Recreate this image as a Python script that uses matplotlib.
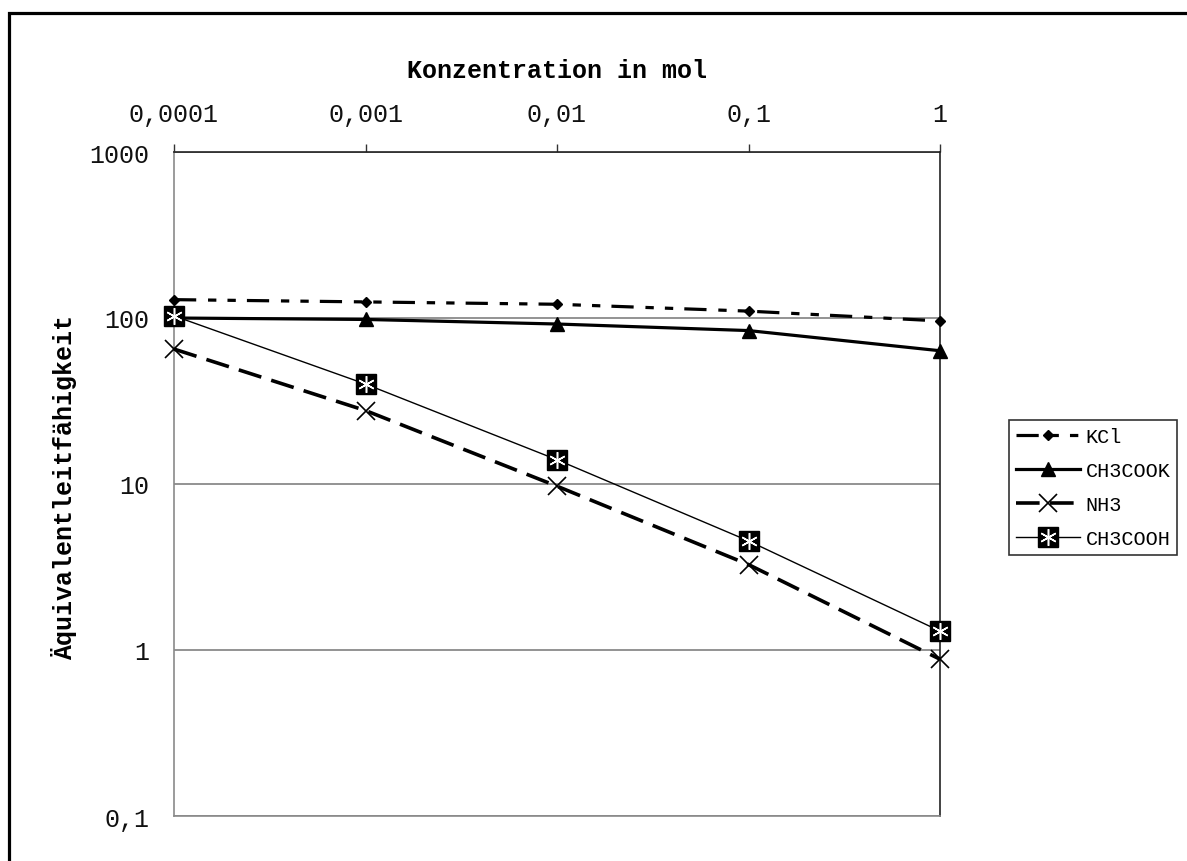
import matplotlib
matplotlib.use("Agg")
import matplotlib.pyplot as plt
from matplotlib.patches import Rectangle
from matplotlib.ticker import FixedLocator, FixedFormatter, NullLocator

plt.rcParams["lines.scale_dashes"] = False

# Concentrations (mol) and equivalent conductivities per electrolyte
konzentration = [0.0001, 0.001, 0.01, 0.1, 1]
konz_labels = ["0,0001", "0,001", "0,01", "0,1", "1"]
kcl = [129, 125, 121, 110, 96]
ch3cook = [100, 98, 92, 84, 63.5]
nh3 = [65, 27.7, 9.7, 3.27, 0.88]
ch3cooh = [103, 40, 14.0, 4.54, 1.3]

y_ticks = [0.1, 1, 10, 100, 1000]
y_labels = ["0,1", "1", "10", "100", "1000"]

W, H = 1187, 862
fig = plt.figure(figsize=(W / 100, H / 100), dpi=100)
ax = fig.add_axes([174 / W, 1 - 817 / H, (940 - 174) / W, (817 - 153) / H])

mono = "Liberation Mono"

l_kcl, = ax.plot(konzentration, kcl, color="black", lw=2.3,
                 dashes=(16, 8.5, 6, 8, 6, 8), marker="D", ms=5.5,
                 clip_on=False, zorder=3)
l_ac, = ax.plot(konzentration, ch3cook, color="black", lw=2.3,
                marker="^", ms=10.5, clip_on=False, zorder=3)
l_nh3, = ax.plot(konzentration, nh3, color="black", lw=2.6,
                 dashes=(17, 7.5), marker="x", ms=12.5, mew=1.2,
                 clip_on=False, zorder=3)
l_sq, = ax.plot(konzentration, ch3cooh, color="black", lw=1.0,
                marker="s", ms=15, clip_on=False, zorder=4)
l_ast, = ax.plot(konzentration, ch3cooh, ls="none", marker=(6, 2, 0),
                 ms=12, mec="white", mew=1.1, clip_on=False, zorder=5)

ax.set_xscale("log")
ax.set_yscale("log")
ax.set_xlim(1e-4, 1)
ax.set_ylim(0.1, 1000)

ax.xaxis.set_major_locator(FixedLocator(konzentration))
ax.xaxis.set_major_formatter(FixedFormatter(konz_labels))
ax.xaxis.set_minor_locator(NullLocator())
ax.yaxis.set_major_locator(FixedLocator(y_ticks))
ax.yaxis.set_major_formatter(FixedFormatter(y_labels))
ax.yaxis.set_minor_locator(NullLocator())

ax.xaxis.tick_top()
ax.tick_params(axis="x", which="major", direction="out", length=6, width=1,
               color="#333333", pad=13, labelsize=18)
ax.tick_params(axis="y", which="major", length=0, pad=18, labelsize=18)
for lab in ax.get_xticklabels() + ax.get_yticklabels():
    lab.set_fontfamily(mono)
    lab.set_color("#111111")

ax.grid(axis="y", color="#808080", lw=1.2)
ax.set_axisbelow(True)
for side in ("left", "bottom"):
    ax.spines[side].set_color("#8a8a8a")
    ax.spines[side].set_linewidth(1.2)
for side in ("top", "right"):
    ax.spines[side].set_color("#222222")
    ax.spines[side].set_linewidth(1.2)

fig.text(557 / W, 1 - 71 / H, "Konzentration in mol", ha="center", va="center",
         fontsize=18, fontweight="bold", family=mono)
fig.text(64 / W, 1 - 487 / H, "Äquivalentleitfähigkeit", ha="center",
         va="center", rotation=90, fontsize=18, fontweight="bold", family=mono)

leg = fig.legend([l_kcl, l_ac, l_nh3, (l_sq, l_ast)],
                 ["KCl", "CH3COOK", "NH3", "CH3COOH"],
                 loc="upper left", bbox_to_anchor=(1009 / W, 1 - 421 / H),
                 borderaxespad=0, prop={"family": mono, "size": 14.5},
                 handlelength=3.2, handletextpad=0.25, borderpad=0.35,
                 labelspacing=0.75, frameon=True, fancybox=False,
                 framealpha=1, edgecolor="#333333")
leg.get_frame().set_linewidth(1.2)

# outer chart-area frame
fig.patches.append(Rectangle((9.5 / W, -0.05), 1.2, 1 - 14 / H + 0.05,
                             transform=fig.transFigure, fill=False,
                             edgecolor="black", lw=2.3, clip_on=False))

fig.savefig("out.png", dpi=100)
